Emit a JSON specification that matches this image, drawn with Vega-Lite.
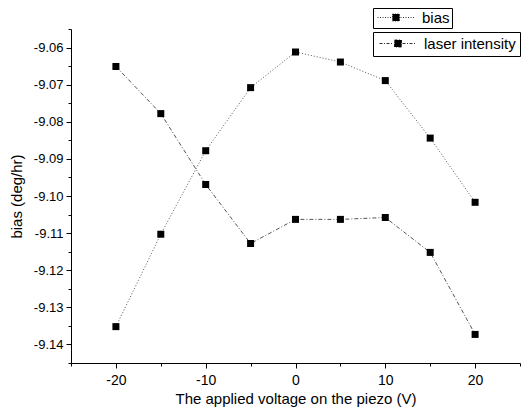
{
  "$schema": "https://vega.github.io/schema/vega-lite/v6.json",
  "width": 449,
  "height": 334,
  "autosize": "none",
  "padding": {"left": 71, "top": 29, "right": 3, "bottom": 52},
  "background": "white",
  "config": {
    "view": {"stroke": null},
    "font": "Liberation Sans",
    "axis": {"grid": false, "domainColor": "black", "tickColor": "black", "labelColor": "black", "titleColor": "black", "labelFont": "Liberation Sans", "titleFont": "Liberation Sans", "labelFontSize": 13, "titleFontSize": 15, "titleFontWeight": "normal"}
  },
  "datasets": {
    "bias": [
      {"v": -20, "y": -9.1352, "s": "bias"},
      {"v": -15, "y": -9.1103, "s": "bias"},
      {"v": -10, "y": -9.0878, "s": "bias"},
      {"v": -5, "y": -9.0708, "s": "bias"},
      {"v": 0, "y": -9.0612, "s": "bias"},
      {"v": 5, "y": -9.0639, "s": "bias"},
      {"v": 10, "y": -9.0689, "s": "bias"},
      {"v": 15, "y": -9.0844, "s": "bias"},
      {"v": 20, "y": -9.1017, "s": "bias"}
    ],
    "laser": [
      {"v": -20, "y": -9.0651, "s": "laser intensity"},
      {"v": -15, "y": -9.0778, "s": "laser intensity"},
      {"v": -10, "y": -9.0969, "s": "laser intensity"},
      {"v": -5, "y": -9.1128, "s": "laser intensity"},
      {"v": 0, "y": -9.1063, "s": "laser intensity"},
      {"v": 5, "y": -9.1063, "s": "laser intensity"},
      {"v": 10, "y": -9.1058, "s": "laser intensity"},
      {"v": 15, "y": -9.1152, "s": "laser intensity"},
      {"v": 20, "y": -9.1373, "s": "laser intensity"}
    ]
  },
  "encoding": {
    "x": {
      "field": "v", "type": "quantitative",
      "scale": {"domain": [-25, 25], "nice": false, "zero": false},
      "axis": {
        "title": "The applied voltage on the piezo (V)",
        "values": [-25, -20, -15, -10, -5, 0, 5, 10, 15, 20, 25],
        "labelExpr": "abs(datum.value) % 10 === 0 && abs(datum.value) < 25 ? '' + datum.value : ''",
        "tickSize": {"condition": {"test": "abs(datum.value) % 10 === 0", "value": 5}, "value": 3},
        "labelFontSize": 14,
        "labelPadding": 5,
        "titlePadding": 4
      }
    },
    "y": {
      "field": "y", "type": "quantitative",
      "scale": {"domain": [-9.145, -9.055], "nice": false, "zero": false},
      "axis": {
        "title": "bias (deg/hr)",
        "values": [-9.145, -9.14, -9.135, -9.13, -9.125, -9.12, -9.115, -9.11, -9.105, -9.1, -9.095, -9.09, -9.085, -9.08, -9.075, -9.07, -9.065, -9.06, -9.055],
        "labelExpr": "abs(round(datum.value * 1000)) % 10 === 0 ? replace(format(datum.value, '.2f'), '\u2212', '-') : ''",
        "tickSize": {"condition": {"test": "abs(round(datum.value * 1000)) % 10 === 0", "value": 5}, "value": 3},
        "labelPadding": 3,
        "titlePadding": 9
      }
    }
  },
  "layer": [
    {
      "data": {"name": "bias"},
      "mark": {"type": "line", "strokeDash": [1, 2], "strokeWidth": 0.9, "strokeOpacity": 0.75, "point": {"shape": "square", "size": 49, "filled": true, "color": "black", "opacity": 1}},
      "encoding": {
        "color": {"field": "s", "type": "nominal", "scale": {"domain": ["bias"], "range": ["black"]},
          "legend": {"title": null, "orient": "none", "legendX": 302, "legendY": -21, "symbolType": "M-1,0H1.8M3.6,0H6.4M2,-0.7H3.4V0.7H2Z", "symbolFillColor": "black", "symbolStrokeColor": "#555555", "symbolStrokeWidth": 0.8, "symbolDash": [1, 1.5], "symbolSize": 100, "labelFontSize": 15, "labelColor": "black", "labelFont": "Liberation Sans", "labelOffset": 32, "strokeColor": "black", "padding": 2, "fillColor": "white"}}
      }
    },
    {
      "data": {"name": "laser"},
      "mark": {"type": "line", "strokeDash": [4, 2, 1, 2], "strokeWidth": 0.9, "strokeOpacity": 0.75, "point": {"shape": "square", "size": 49, "filled": true, "color": "black", "opacity": 1}},
      "encoding": {
        "color": {"field": "s", "type": "nominal", "scale": {"domain": ["laser intensity"], "range": ["black"]},
          "legend": {"title": null, "orient": "none", "legendX": 302, "legendY": 3, "symbolType": "M-1,0H1.8M3.6,0H6.4M2,-0.7H3.4V0.7H2Z", "symbolFillColor": "black", "symbolStrokeColor": "#555555", "symbolStrokeWidth": 0.8, "symbolDash": [3, 1.5, 1, 1.5], "symbolSize": 100, "labelFontSize": 15, "labelColor": "black", "labelFont": "Liberation Sans", "labelOffset": 32, "strokeColor": "black", "padding": 4, "fillColor": "white"}}
      }
    }
  ],
  "resolve": {"scale": {"color": "independent"}}
}
